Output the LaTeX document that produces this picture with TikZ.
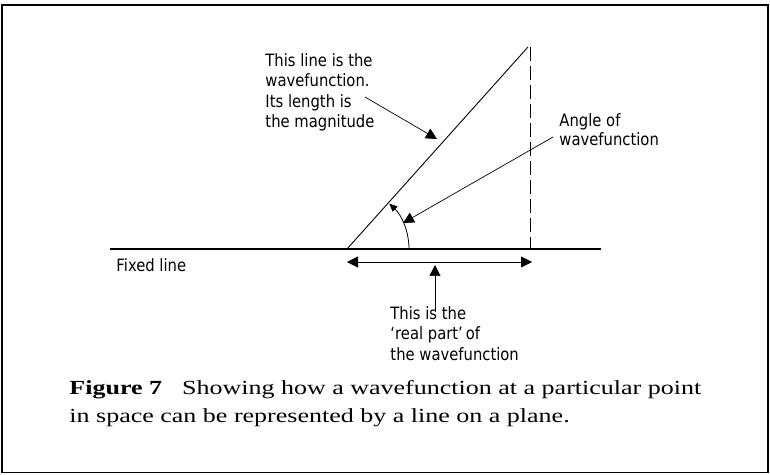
\documentclass[tikz,border=0pt]{standalone}
\usepackage{fontspec}
\setmainfont{Liberation Serif}
\newfontfamily\labelfont[FakeStretch=0.87]{DejaVu Sans}
\newfontfamily\captionfont[FakeStretch=1.3]{Liberation Serif}
\usetikzlibrary{arrows.meta,calc}

\tikzset{
  label text/.style={font=\labelfont\fontsize{17}{20.5}\selectfont,align=left,inner sep=0pt,anchor=north west},
  pointer/.style={-{Triangle[length=11pt,width=11pt]},line width=0.7pt},
}

\begin{document}
\begin{tikzpicture}[x=1pt,y=1pt,line width=0.9pt]
\useasboundingbox (0,0) rectangle (770,474);
\draw[line width=1.3pt] (2,1.5) rectangle (768,469);

\coordinate (O) at (347,225);
\coordinate (T) at (528,427);
\coordinate (Ttop) at (530,427);
\coordinate (Tfoot) at (530,225);
\coordinate (FixL) at (110,225);
\coordinate (FixR) at (601,225);
\coordinate (RealL) at (347,212);
\coordinate (RealR) at (532,212);
\coordinate (RealMid) at (435,209);
\coordinate (RealTail) at (435,162);
\coordinate (MagTail) at (365,377);
\coordinate (MagHead) at (437,335);
\coordinate (AngTail) at (553,337);
\coordinate (AngHead) at (403,251);

\draw[line width=1.3pt] (FixL) -- (FixR);
\draw (O) -- (T);
\draw[dashed,dash pattern=on 14pt off 5pt,line width=0.7pt] (Ttop) -- (Tfoot);
\draw[-{Triangle[length=8pt,width=7pt]},line width=0.8pt] ($(O)+(62,0)$) arc[start angle=0,end angle=47,radius=62];
\draw[{Triangle[length=11pt,width=11pt]}-{Triangle[length=11pt,width=11pt]},line width=0.8pt] (RealL) -- (RealR);

\node[label text] (fixed) at (116,216) {Fixed line};
\node[label text] (mag) at (265,421) {This line is the\\wavefunction.\\Its length is\\the magnitude};
\node[label text,font=\labelfont\fontsize{17}{19}\selectfont] (ang) at (559,361) {Angle of\\wavefunction};
\node[label text] (real) at (390,168) {This is the\\‘real part’\,of\\the wavefunction};

\draw[pointer] (MagTail) -- (MagHead);
\draw[pointer] (AngTail) -- (AngHead);
\draw[pointer] (RealTail) -- (RealMid);

\node[anchor=north west,align=left,inner sep=0pt,font=\captionfont\fontsize{20}{28}\selectfont] (caption) at (69,94)
  {\textbf{Figure 7}\quad Showing how a wavefunction at a particular point\\in space can be represented by a line on a plane.};
\end{tikzpicture}
\end{document}
